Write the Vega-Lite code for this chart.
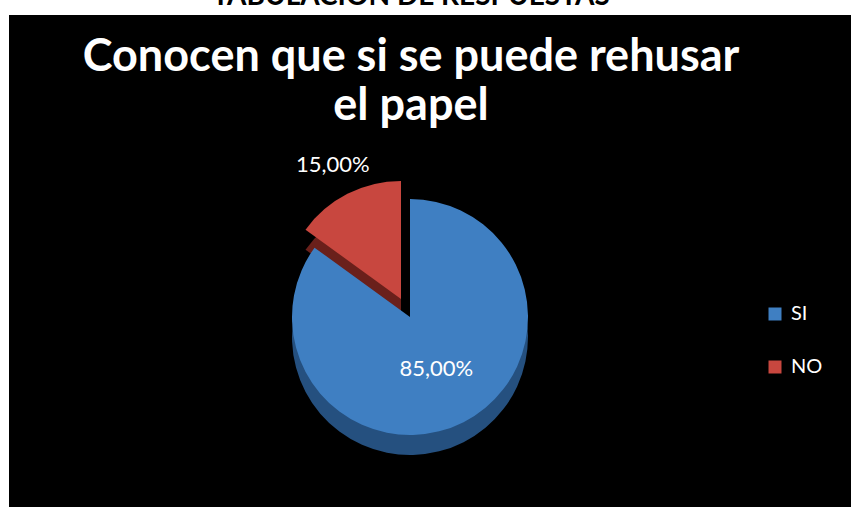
{
  "$schema": "https://vega.github.io/schema/vega-lite/v6.json",
  "width": 842,
  "height": 492,
  "autosize": {"type": "none"},
  "padding": {"left": 9, "top": 15, "right": 0, "bottom": 0},
  "background": "white",
  "title": {
    "text": "TABULACION DE RESPUESTAS",
    "subtitle": ["Conocen que si se puede rehusar", "el papel"],
    "anchor": "middle",
    "frame": "group",
    "orient": "top",
    "offset": -114,
    "dx": -19,
    "font": "Lato",
    "fontSize": 28,
    "fontWeight": "bold",
    "color": "black",
    "subtitleFont": "Lato",
    "subtitleFontSize": 45,
    "subtitleFontWeight": "bold",
    "subtitleColor": "white",
    "subtitleLineHeight": 49,
    "subtitlePadding": 24
  },
  "data": {
    "values": [
      {"resp": "SI", "value": 0.85},
      {"resp": "NO", "value": 0.15}
    ]
  },
  "encoding": {
    "theta": {"field": "value", "type": "quantitative", "stack": true},
    "order": {"field": "resp", "sort": "descending"}
  },
  "layer": [
    {
      "mark": {"type": "arc", "outerRadius": 118},
      "encoding": {
        "x": {"value": 392},
        "y": {"value": 304},
        "color": {"value": "#6a201b"},
        "opacity": {"condition": {"test": "datum.resp === 'NO'", "value": 1}, "value": 0}
      }
    },
    {
      "mark": {"type": "arc", "outerRadius": 118},
      "encoding": {
        "x": {"value": 392},
        "y": {"value": 284},
        "color": {
          "field": "resp",
          "type": "nominal",
          "scale": {"domain": ["SI", "NO"], "range": ["#3f7fc2", "#c8473f"]},
          "legend": {
            "orient": "none",
            "legendX": 756,
            "legendY": 289,
            "title": null,
            "symbolType": "square",
            "symbolSize": 169,
            "symbolStrokeWidth": 0,
            "labelColor": "white",
            "labelFont": "Lato",
            "labelFontSize": 20,
            "rowPadding": 33,
            "labelOffset": 6
          }
        },
        "opacity": {"condition": {"test": "datum.resp === 'NO'", "value": 1}, "value": 0}
      }
    },
    {
      "mark": {"type": "arc", "outerRadius": 118},
      "encoding": {
        "x": {"value": 401},
        "y": {"value": 322},
        "color": {"value": "#25507f"},
        "opacity": {"condition": {"test": "datum.resp === 'SI'", "value": 1}, "value": 0}
      }
    },
    {
      "mark": {"type": "arc", "outerRadius": 118},
      "encoding": {
        "x": {"value": 401},
        "y": {"value": 302},
        "color": {"field": "resp", "type": "nominal"},
        "opacity": {"condition": {"test": "datum.resp === 'SI'", "value": 1}, "value": 0}
      }
    },
    {
      "mark": {"type": "text", "radius": 58, "font": "Lato", "fontSize": 22, "color": "white"},
      "encoding": {
        "x": {"value": 401},
        "y": {"value": 302},
        "text": {"field": "value", "type": "quantitative", "format": ".2%"},
        "opacity": {"condition": {"test": "datum.resp === 'SI'", "value": 1}, "value": 0}
      }
    },
    {
      "mark": {"type": "text", "radius": 150, "font": "Lato", "fontSize": 22, "color": "white"},
      "encoding": {
        "x": {"value": 392},
        "y": {"value": 284},
        "text": {"field": "value", "type": "quantitative", "format": ".2%"},
        "opacity": {"condition": {"test": "datum.resp === 'NO'", "value": 1}, "value": 0}
      }
    }
  ],
  "config": {
    "view": {"fill": "black", "stroke": null},
    "locale": {"number": {"decimal": ",", "thousands": ".", "grouping": [3], "currency": ["", " €"]}}
  }
}
